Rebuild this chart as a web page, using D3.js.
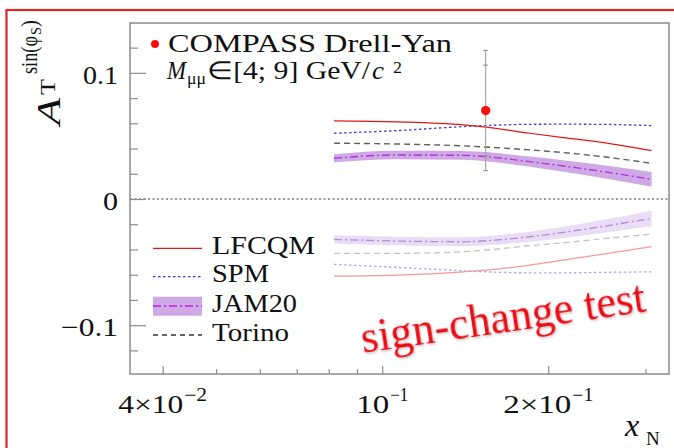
<!DOCTYPE html>
<html><head><meta charset="utf-8">
<script src="https://cdn.jsdelivr.net/npm/d3@7"></script>
<style>body{margin:0;background:#fff}svg{display:block}</style>
</head><body><svg id="c" width="674" height="448" font-family="'Liberation Serif', serif"></svg>
<script>
// ---- data ----
const xN = [0.0818, 0.1062, 0.1403, 0.154, 0.1852, 0.2129, 0.2446, 0.3078];
const lfcqm = [0.0619, 0.0611, 0.0587, 0.0569, 0.0521, 0.0487, 0.0455, 0.0383];
const spm = [0.0521, 0.0542, 0.0574, 0.0582, 0.0592, 0.0593, 0.0592, 0.0582];
const torino = [0.0442, 0.0436, 0.0421, 0.0412, 0.0389, 0.0368, 0.0341, 0.0283];
const jam20 = [0.0323, 0.0349, 0.0346, 0.0336, 0.0296, 0.0262, 0.0225, 0.0156];
const jam20Err = [0.0032, 0.0033, 0.0035, 0.0036, 0.0040, 0.0045, 0.0050, 0.0058];
const lfcqmLow = [-0.0611, -0.0603, -0.0577, -0.0564, -0.0524, -0.0484, -0.0445, -0.0378];
const spmLow = [-0.0518, -0.0542, -0.0569, -0.0577, -0.0585, -0.0585, -0.0582, -0.0577];
const torinoLow = [-0.0431, -0.0431, -0.0418, -0.0405, -0.0370, -0.0347, -0.0320, -0.0278];
const jam20Low = [-0.0320, -0.0333, -0.0339, -0.0331, -0.0299, -0.0265, -0.0225, -0.0154];
const jam20LowErr = [0.0032, 0.0033, 0.0035, 0.0036, 0.0040, 0.0045, 0.0050, 0.0060];
const dataX = [0.154];
const dataY = [0.0701];
const dataStat = [0.036];
const dataTot = [0.0477];
const xMajor = [0.04, 0.1, 0.2];
const xMajorLabels = [["4×10", "−2"], ["10", "−1"], ["2×10", "−1"]];
const xMinor = [0.05, 0.06, 0.07, 0.08, 0.09, 0.3];
const yMajor = [-0.1, 0, 0.1];
const yMajorLabels = ["−0.1", "0", "0.1"];
const yMinor = [-0.12, -0.08, -0.06, -0.04, -0.02, 0.02, 0.04, 0.06, 0.08, 0.12];
const legendNames = ["LFCQM", "SPM", "JAM20", "Torino"];

// ---- layout ----
const svg = d3.select("#c");
const L = 130, R = 669, T = 23, B = 374;
const x = d3.scaleLog().domain([0.0349, 0.331]).range([L, R]);
const y = d3.scaleLinear().domain([-0.1387, 0.1395]).range([B, T]);
const ink = "#111";
const txt = (g, s, px, py, size, opts = {}) => {
  const t = g.append("text").attr("x", px).attr("y", py).attr("font-size", size).attr("fill", opts.fill || ink)
    .attr("font-family", "'Liberation Serif', serif").text(s);
  if (opts.italic) t.attr("font-style", "italic");
  if (opts.w) t.attr("textLength", opts.w).attr("lengthAdjust", "spacingAndGlyphs");
  return t;
};

// outer red frame
svg.append("rect").attr("x", 6.5).attr("y", 10).attr("width", 700).attr("height", 500)
  .attr("fill", "none").attr("stroke", "#d8262a").attr("stroke-width", 2.2);

// zero line
svg.append("line").attr("x1", L).attr("x2", R).attr("y1", y(0)).attr("y2", y(0))
  .attr("stroke", "#9a9a9a").attr("stroke-width", 2).attr("stroke-dasharray", "2,2.5");

const line = d3.line().x((d, i) => x(xN[i])).y(d => y(d)).curve(d3.curveMonotoneX);
const band = (v, e) => d3.area().x((d, i) => x(xN[i])).y0((d, i) => y(v[i] - e[i])).y1((d, i) => y(v[i] + e[i])).curve(d3.curveMonotoneX)(v);

// lower (sign-changed) curves, faint
const gLow = svg.append("g");
gLow.append("path").attr("d", band(jam20Low, jam20LowErr)).attr("fill", "#eadcf5");
gLow.append("path").attr("d", line(jam20Low)).attr("fill", "none").attr("stroke", "#b38ad8").attr("stroke-width", 1.3).attr("stroke-dasharray", "8,3,2,3");
gLow.append("path").attr("d", line(torinoLow)).attr("fill", "none").attr("stroke", "#c4c4c4").attr("stroke-width", 1.3).attr("stroke-dasharray", "6,4");
gLow.append("path").attr("d", line(spmLow)).attr("fill", "none").attr("stroke", "#a8a8ec").attr("stroke-width", 1.3).attr("stroke-dasharray", "2.5,2.5");
gLow.append("path").attr("d", line(lfcqmLow)).attr("fill", "none").attr("stroke", "#f29a9a").attr("stroke-width", 1.2);

// upper curves
const gUp = svg.append("g");
gUp.append("path").attr("d", band(jam20, jam20Err)).attr("fill", "#cfa8e6");
gUp.append("path").attr("d", line(jam20)).attr("fill", "none").attr("stroke", "#b035d8").attr("stroke-width", 1.4).attr("stroke-dasharray", "8,3,2,3");
gUp.append("path").attr("d", line(torino)).attr("fill", "none").attr("stroke", "#606060").attr("stroke-width", 1.4).attr("stroke-dasharray", "6,4");
gUp.append("path").attr("d", line(spm)).attr("fill", "none").attr("stroke", "#3c3cd6").attr("stroke-width", 1.3).attr("stroke-dasharray", "2.5,2.5");
gUp.append("path").attr("d", line(lfcqm)).attr("fill", "none").attr("stroke", "#e01818").attr("stroke-width", 1.2);

// data point
dataX.forEach((dx, i) => {
  const cx = x(dx);
  svg.append("line").attr("x1", cx).attr("x2", cx).attr("y1", y(dataY[i] + dataTot[i])).attr("y2", y(dataY[i] - dataTot[i]))
    .attr("stroke", "#9a9a9a").attr("stroke-width", 1);
  [dataY[i] + dataTot[i], dataY[i] - dataTot[i], dataY[i] + dataStat[i], dataY[i] - dataStat[i]].forEach(v => {
    svg.append("line").attr("x1", cx - 2.5).attr("x2", cx + 2.5).attr("y1", y(v)).attr("y2", y(v)).attr("stroke", "#8a8a8a").attr("stroke-width", 1);
  });
  svg.append("circle").attr("cx", cx).attr("cy", y(dataY[i])).attr("r", 4.6).attr("fill", "#ff0a0a");
});

// frame
svg.append("rect").attr("x", L).attr("y", T).attr("width", R - L).attr("height", B - T)
  .attr("fill", "none").attr("stroke", "#8c8c8c").attr("stroke-width", 1.5);

// axes ticks
const styleAxis = g => { g.select(".domain").remove(); g.selectAll(".tick line").attr("stroke", "#8c8c8c").attr("stroke-width", 1.2); g.selectAll(".tick text").remove(); };
svg.append("g").attr("transform", `translate(0,${B})`).call(d3.axisBottom(x).tickValues(xMajor).tickSize(-8).tickFormat("")).call(styleAxis);
svg.append("g").attr("transform", `translate(0,${B})`).call(d3.axisBottom(x).tickValues(xMinor).tickSize(-5).tickFormat("")).call(styleAxis);
svg.append("g").attr("transform", `translate(${L},0)`).call(d3.axisLeft(y).tickValues(yMajor).tickSize(-16).tickFormat("")).call(styleAxis);
svg.append("g").attr("transform", `translate(${L},0)`).call(d3.axisLeft(y).tickValues(yMinor).tickSize(-8).tickFormat("")).call(styleAxis);

// y tick labels
const yLabW = [57, 15, 35];
yMajor.forEach((v, i) => txt(svg, yMajorLabels[i], 118 - yLabW[i], y(v) + 11, 26, {w: yLabW[i]}));

// x tick labels
const xMainW = [65, 33, 68], xSupW = [24, 19, 22];
xMajor.forEach((v, i) => {
  const w = xMainW[i] + xSupW[i];
  const x0 = x(v) - w / 2;
  txt(svg, xMajorLabels[i][0], x0, 413, 25, {w: xMainW[i]});
  txt(svg, xMajorLabels[i][1], x0 + xMainW[i] + 1, 401, 18, {w: xSupW[i] - 1});
});

// x title
txt(svg, "x", 625, 436, 32, {italic: true});
txt(svg, "N", 646, 445, 19);

// y title (rotated)
const gy = svg.append("g").attr("transform", "rotate(-90)");
txt(gy, "A", -125, 60, 34, {italic: true, w: 27});
txt(gy, "T", -95, 55, 21, {w: 16});
txt(gy, "sin(φ", -74, 37, 23, {w: 38});
txt(gy, "S", -35, 41, 15, {w: 8});
txt(gy, ")", -27, 37, 23, {w: 7});

// top legend
svg.append("circle").attr("cx", 155).attr("cy", 44).attr("r", 4).attr("fill", "#ff0a0a");
txt(svg, "COMPASS Drell-Yan", 168, 51.5, 25, {w: 284});
txt(svg, "M", 167, 78.5, 25, {italic: true, w: 19});
txt(svg, "μμ", 187, 84, 16, {w: 19});
txt(svg, "∈[4; 9] GeV/", 207, 78.5, 25, {w: 163});
txt(svg, "c", 372, 78.5, 25, {italic: true, w: 12});
txt(svg, "2", 393, 73, 17, {w: 9});

// bottom legend
const lgY = [248.3, 276.7, 306, 335];
const lgTW = [103, 57, 85, 77];
const lx1 = 153, lx2 = 202;
svg.append("rect").attr("x", lx1).attr("y", 296.7).attr("width", lx2 - lx1).attr("height", 19).attr("fill", "#cfa8e6");
const lgStyles = [
  {c: "#e01818", d: null},
  {c: "#3c3cd6", d: "2.5,2.5"},
  {c: "#c020d8", d: "8,3,2,3"},
  {c: "#333", d: "5,4"}
];
legendNames.forEach((n, i) => {
  svg.append("line").attr("x1", lx1).attr("x2", lx2).attr("y1", lgY[i]).attr("y2", lgY[i])
    .attr("stroke", lgStyles[i].c).attr("stroke-width", 1.3).attr("stroke-dasharray", lgStyles[i].d);
  txt(svg, n, 212, lgY[i] + 5.5, 25, {w: lgTW[i]});
});

// annotation
const defs = svg.append("defs");
const f = defs.append("filter").attr("id", "sh").attr("x", "-10%").attr("y", "-30%").attr("width", "120%").attr("height", "160%");
f.append("feDropShadow").attr("dx", 1).attr("dy", 1.5).attr("stdDeviation", 1.2).attr("flood-color", "#000").attr("flood-opacity", 0.25);
txt(svg, "sign-change test", 0, 0, 46, {fill: "#ea1016", w: 287})
  .attr("transform", "translate(363,353) rotate(-8.3)").attr("filter", "url(#sh)");
</script></body></html>
